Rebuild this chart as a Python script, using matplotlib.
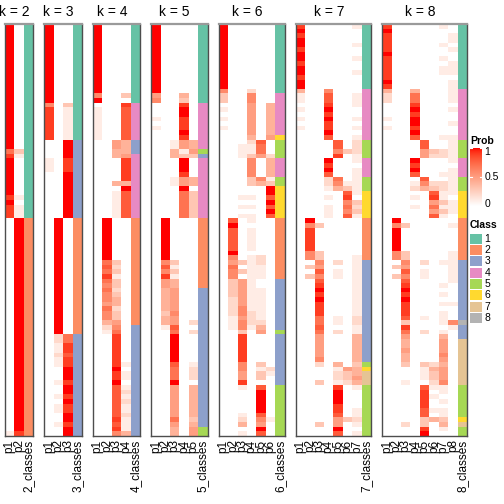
import numpy as np
import matplotlib
matplotlib.use('Agg')
import matplotlib.pyplot as plt
from matplotlib.colors import ListedColormap
from matplotlib.patches import Rectangle

# ---------------- data ----------------
N_ROWS = 89
k_values = [2, 3, 4, 5, 6, 7, 8]
class_ids = [1, 2, 3, 4, 5, 6, 7, 8]
class_colors = ['#66C2A5', '#FC8D62', '#8DA0CB', '#E78AC3',
                '#A6D854', '#FFD92F', '#E5C494', '#B3B3B3']
prob_ticks = [0, 0.5, 1]
prob_tick_labels = ['0', '0.5', '1']

# membership columns p1..pk, run-length tokens "value*count", value in tenths ('a' = 1.0)
mem_k2 = [
    "a*27 7 9 a*8 9 a 9 9 9 0*46 1",
    "0*27 3 1 0*8 1 0 1 1 1 a*46 9",
]
mem_k3 = [
    "a*17 6 9*7 0*4 1 1 1 0*57",
    "0*42 a*25 2 2 1 1 2 1 1 0*3 1 0 0 1 0 1 1 0 0 1 0 0",
    "0*17 3 1*7 a*4 9 9 9 a*10 0*25 7 7 9 9 8 9 9 a*3 9 a a 9 a 9 9 a a 9 a a",
]
mem_k4 = [
    "a*15 6 a 0 1*7 0*64",
    "0*42 a*9 7 8 7 9 7 6 7 6 6 5 7 6 6 4 2 1 0*22",
    "0*25 5 5 4 4 0*5 4 0 1*6 0*9 3 2 3 1 3 3 2 3 4 4 2 3 3 5 6 7 9*6 9 a 9 9 a 8 8 8 8 8 8 8 9 8 9 6",
    "0*15 3 0 9 8*7 4 4 4 5 9*5 4 a 8*6 0*23 0 0 0*6 1 0 1 1 0 1 2 1 2 1 1 2 1 1 1 4",
]
mem_k5 = [
    "a*15 5 6 0 0 0 1 0 1 0*66",
    "0*42 a*9 6 8 6 9 5 5 4*5 3 4 4 1 0 0*22",
    "0*25 1 1 4 4 0*4 1 1 0 0*6 0*9 3 1 3 1 4 4 5*5 6 5 5 8 7 a*6 8 7 7 7 a 5*7 7 5 4 4",
    "0*15 4 3 9 a a 9 9 9 a 9 5 5 1 3 a a a 9 5 5 a 7*6 0*47",
    "0*25 4 4 5 3 0*4 4 4 0 3*6 0*9 0*6 0*7 2 0 2 0*6 1 2 2 2 0 4*7 3 4 5 5",
]
mem_k6 = [
    "a*14 6 3 3 0 1 0 1 0 1 0 0*65",
    "0*42 8 a 8 8 8 8 8 a 6 5 7 6 6 3 3 3 3 2 2 2 2 1 1 1 0 0*22",
    "0*25 0 1 1 1 0*4 0 0 0 0 1 0 1 0 1 0*8 0 3 0 3 0 5 5 5 5 5 5 6 6 5 6 6 3 9*6 6 6 5 5 9 1 0 0 0 0 0 1 2 4 0 1",
    "0*14 2 6 6 5*7 4 2 1 1 3 6 6 6 6 3 3 0 0 1 0 1 0 1 1 0 1 1 1 1 1 0 1 1 1 1 1 1*7 2 2 2 1 0 0*22",
    "0*25 8 7 7 5 0*4 6 4 0*7 0*8 2 2 1 1 1 0 0 1 1 1 1 1 1 1 2 4 5 0*6 3 1 3 3 0 8 a a a a a 8 6 5 a 8",
    "0*17 4*7 5 0 0 0 2 4*4 1 3 a a 8 a 8 a 8 0*32 2 1 0*9 1 0*3",
]
mem_k7 = [
    "9 a 9 a a 9 a a 9 a a 9 a a | 4 | 1 1 | 0 1 0 1 0 1 0 | 0*65",
    "0*42 a 6 9 9 9 9 9 6 6 0 3 0 3 0 0*33",
    "0*42 0 3 0 0 0 0 0 3 3 | 6 5 8 6 8 | 9 a 9 a 9 9 9 | 7 7 8 7 | 5*5 | 6 | 2 | 0 | 0 0 3 | 0 0 0 0 0 0 0 0 3 0 0",
    "0*14 6 8 8 9 a 9 a 9 9 a 8 0 0 0 0 a 9 a 8 2 2 1 0 1 0 1 1 1 0*47",
    "0*25 8 8 6 9 0 0 0 0 7 6 4 0*6 0*9 2 0 1 1 0 0*7 1 1 0 2 0*5 0 4 1 2 2 1 9 a a a 9 9 8 5 5 a 8",
    "0*27 3 0 0*4 0 1 3 8 9 6 7 6 8 0*31 0 5 3 3 2 0*7 3 0*3",
    "1 0 0 0 1 0 0 1 0 0 1 0 0 0 | 0 | 1 1 | 1 0 0 1 0 1 0 | 1 | 2 2 2 1 | 1 0 1 1 | 1 1 1 | 1 0 3 2 3 1 | 0*8 | 1 | 1*5 | 1*7 | 2 2 | 1 1 | 4*5 | 4 | 3 | 4 | 4 5 4 | 1 0 0 0 0 1 1 2 1 0 1",
]
mem_k8 = [
    "9 a 9 9 9 9 a 9 9 9 9 9 a 9 | 4 | 2 2 | 0 0 0 1 0 1 0 | 0*65",
    "0*42 a 6 a a a a a 6 6 0 3 0 3 0 0*33",
    "0*42 0 3 0 0 0 0 0 3 3 | 6 5 8 6 8 | 9 a 9 a 9 9 9 | 8 | 3 | 9 7 5 | 4 4 5 4 4 | 3 0 0 0 1 | 0*7 | 0 | 2 | 0 0",
    "0*14 4 7 7 9 a 9 a a 9 a 8 0 0 0 0 a 9 a 8 0 1 2 0 1 0 1 0 0 0*47",
    "0*25 8 8 5 5 0*4 8 6 4 0*6 0*9 2 0 1 1 0 0*7 1 0 0 2 0 0*5 3 1 1 1 0 8 9 9 9 9 8 8 3 3 9 a",
    "0*27 3 2 0*4 0 2 3 8 9 5 7 5 8 0*31 2 4 3 3 2 1 0 1 0 0 1 0 4 0 0 0",
    "1 0 0 0 1 0 0 1 0 1 1 0 0 0 | 0 | 0 0 | 0*7 | 1 | 0 0 2 2 | 0 0 0 1 | 0 2 2 | 1 1 3 1 3 1 | 0*9 | 1 0 0 0 0 | 1 0 1 0 1 0 1 | 1 | 1 | 0 1 4 | 5 5 5 6 5 | 4 5 5 5 6 | 1 1 0 1 0 1 1 | 3 | 4 | 1 0",
    "0 0 1 1 0 1 0 0 1 1 1 0 1 1 | 1 | 1 1 | 0 1 0 0 1 0 0 | 1 | 1 1 1 1 | 1 0 1 1 | 1 1 1 | 1 0 1 1 1 0 | 0 1 0 0 0 0 0 1 1 | 1 1 1 1 1 | 0 0 0 0 1 0 0 | 0 | 6 | 1 0 0 | 0*21",
]

# class column, run-length (class, number of rows)
cls_k2 = [(1, 42), (2, 47)]
cls_k3 = [(1, 25), (3, 17), (2, 25), (3, 22)]
cls_k4 = [(1, 17), (4, 8), (3, 3), (4, 14), (2, 23), (3, 24)]
cls_k5 = [(1, 17), (4, 10), (5, 1), (3, 1), (4, 13), (2, 15), (3, 30), (5, 2)]
cls_k6 = [(1, 15), (4, 9), (6, 1), (5, 4), (4, 4), (5, 2), (6, 7), (2, 13), (3, 11), (5, 1), (3, 11), (5, 11)]
cls_k7 = [(1, 14), (4, 11), (5, 4), (4, 4), (5, 3), (6, 6), (2, 9), (3, 22), (5, 1), (6, 1), (7, 3), (5, 11)]
cls_k8 = [(1, 14), (4, 11), (5, 4), (4, 4), (5, 3), (6, 6), (2, 9), (3, 13), (8, 1), (3, 3), (7, 10), (5, 7), (6, 1), (7, 1), (5, 2)]

mem_all = {2: mem_k2, 3: mem_k3, 4: mem_k4, 5: mem_k5, 6: mem_k6, 7: mem_k7, 8: mem_k8}
cls_all = {2: cls_k2, 3: cls_k3, 4: cls_k4, 5: cls_k5, 6: cls_k6, 7: cls_k7, 8: cls_k8}


def expand(s, n=N_ROWS):
    vals = []
    for tok in s.replace('|', ' ').split():
        if '*' in tok:
            v, c = tok.split('*')
        else:
            v, c = tok, '1'
        x = 10 if v == 'a' else int(v)
        vals += [x / 10.0] * int(c)
    vals = (vals + [0.0] * n)[:n]
    return vals


def expand_cls(runs):
    out = []
    for c, n in runs:
        out += [c] * n
    return (out + [out[-1]] * N_ROWS)[:N_ROWS]


# ---------------- colour map: white -> red, interpolated in Lab ----------------
def srgb_to_lab(rgb):
    rgb = np.asarray(rgb, float)
    lin = np.where(rgb <= 0.04045, rgb / 12.92, ((rgb + 0.055) / 1.055) ** 2.4)
    M = np.array([[0.4124, 0.3576, 0.1805], [0.2126, 0.7152, 0.0722], [0.0193, 0.1192, 0.9505]])
    xyz = M @ lin
    xyz = xyz / np.array([0.95047, 1.0, 1.08883])
    f = np.where(xyz > 0.008856, np.cbrt(xyz), 7.787 * xyz + 16 / 116)
    return np.array([116 * f[1] - 16, 500 * (f[0] - f[1]), 200 * (f[1] - f[2])])


def lab_to_srgb(lab):
    L, a, b = lab
    fy = (L + 16) / 116
    fx = fy + a / 500
    fz = fy - b / 200
    f = np.array([fx, fy, fz])
    xyz = np.where(f ** 3 > 0.008856, f ** 3, (f - 16 / 116) / 7.787)
    xyz = xyz * np.array([0.95047, 1.0, 1.08883])
    Minv = np.array([[3.2406, -1.5372, -0.4986], [-0.9689, 1.8758, 0.0415], [0.0557, -0.2040, 1.0570]])
    lin = Minv @ xyz
    lin = np.clip(lin, 0, 1)
    rgb = np.where(lin <= 0.0031308, 12.92 * lin, 1.055 * lin ** (1 / 2.4) - 0.055)
    return np.clip(rgb, 0, 1)


lab_w = srgb_to_lab([1, 1, 1])
lab_r = srgb_to_lab([1, 0, 0])
prob_cmap = ListedColormap([lab_to_srgb(lab_w + (lab_r - lab_w) * t) for t in np.linspace(0, 1, 256)])
cls_cmap = ListedColormap(class_colors)

# ---------------- layout ----------------
W = H = 504.0
fig = plt.figure(figsize=(5.04, 5.04), dpi=100)
FONT = 'Liberation Sans'

col_w = 9.43
gap = 11.0
x_start = 5.0
y_top, y_bot = 24.0, 436.0
border_col = '#4d4d4d'

x0 = x_start
for k in k_values:
    ncol = k + 1
    pw = ncol * col_w
    ax = fig.add_axes([x0 / W, 1 - y_bot / H, pw / W, (y_bot - y_top) / H])
    M = np.array([expand(s) for s in mem_all[k]]).T
    ax.pcolormesh(np.arange(k + 1), np.arange(N_ROWS + 1), M, cmap=prob_cmap,
                  vmin=0, vmax=1, antialiased=False, edgecolors='none')
    C = np.array(expand_cls(cls_all[k]), float).reshape(-1, 1)
    ax.pcolormesh([k, k + 1], np.arange(N_ROWS + 1), C, cmap=cls_cmap,
                  vmin=0.5, vmax=8.5, antialiased=False, edgecolors='none')
    ax.set_xlim(0, k + 1)
    ax.set_ylim(N_ROWS, 0)
    ax.set_xticks([])
    ax.set_yticks([])
    for sp in ax.spines.values():
        sp.set_color(border_col)
        sp.set_linewidth(1.0)
    ax.spines['top'].set_color('#9a9a9a')
    ax.spines['top'].set_linewidth(1.6)

    # title centred over membership columns
    fig.text((x0 + k * col_w / 2) / W, 1 - 16 / H, 'k = %d' % k, ha='center',
             va='baseline', fontsize=10, family=FONT)
    # column labels
    labels = ['p%d' % (j + 1) for j in range(k)] + ['%d_classes' % k]
    for j, lab in enumerate(labels):
        fig.text((x0 + (j + 0.5) * col_w) / W, 1 - 439.5 / H, lab, rotation=90,
                 ha='center', va='top', fontsize=8.5, family=FONT)
    x0 += pw + gap

# ---------------- legends ----------------
lx = 470.0
fig.text(lx / W, 1 - 143.5 / H, 'Prob', fontsize=7.5, fontweight='bold', family=FONT,
         ha='left', va='baseline')
bar_top, bar_bot = 148.0, 206.0
cax = fig.add_axes([lx / W, 1 - bar_bot / H, 12 / W, (bar_bot - bar_top) / H])
grad = np.linspace(0, 1, 200).reshape(-1, 1)
cax.imshow(grad, aspect='auto', cmap=prob_cmap, origin='lower', extent=[0, 1, 0, 1],
           vmin=0, vmax=1)
cax.set_xlim(0, 1)
cax.set_ylim(0, 1)
cax.axis('off')
for t, tl in zip(prob_ticks, prob_tick_labels):
    yy = bar_bot - (bar_bot - bar_top) * t
    yy = min(max(yy, bar_top + 4), bar_bot - 2)
    cax.plot([0, 0.18], [t, t], color='white', lw=0.8, clip_on=True)
    cax.plot([0.82, 1], [t, t], color='white', lw=0.8, clip_on=True)
    fig.text((lx + 14.5) / W, 1 - yy / H, tl, fontsize=7.5, family=FONT,
             ha='left', va='center')

fig.text(lx / W, 1 - 227.5 / H, 'Class', fontsize=7.5, fontweight='bold', family=FONT,
         ha='left', va='baseline')
for i, (cid, colr) in enumerate(zip(class_ids, class_colors)):
    yc = 238.7 + i * 11.3
    fig.patches.append(Rectangle((lx / W, 1 - (yc + 5) / H), 12 / W, 10 / H,
                                 transform=fig.transFigure, facecolor=colr,
                                 edgecolor='none'))
    fig.text((lx + 14.5) / W, 1 - yc / H, str(cid), fontsize=7.5, family=FONT,
             ha='left', va='center')

fig.savefig('out.png', dpi=100)
